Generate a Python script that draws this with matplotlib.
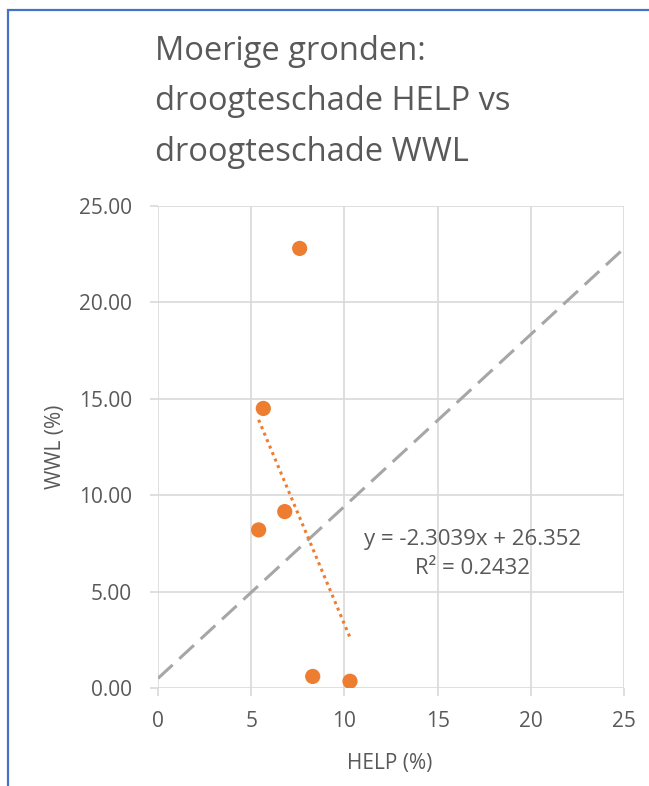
import matplotlib
matplotlib.use('Agg')

import numpy as np
import matplotlib.pyplot as plt
from matplotlib.patches import Rectangle

# data
help_pct = [7.6, 5.65, 6.8, 5.4, 8.3, 10.3]
wwl_pct = [22.8, 14.5, 9.15, 8.2, 0.6, 0.35]

# trendline as printed on the chart
slope = -2.3039
intercept = 26.352
r2 = 0.2432

# grey dashed reference line
ref_x = [0, 25]
ref_y = [0.5, 22.8]

x_ticks = [0, 5, 10, 15, 20, 25]
y_ticks = [0, 5, 10, 15, 20, 25]

plt.rcParams['font.family'] = ['Open Sans', 'DejaVu Sans']
grey_txt = '#595959'
orange = '#ED7D31'

fig = plt.figure(figsize=(6.49, 7.86), dpi=100)
ax = fig.add_axes([158 / 649, 1 - 688 / 786, (624 - 158) / 649, (688 - 206) / 786])

# frame around the chart (clipped by the image on the right and bottom)
fig.patches.append(Rectangle((8 / 649, -0.1), 1.2, 1 - 10 / 786 + 0.1,
                             transform=fig.transFigure, fill=False,
                             edgecolor='#4472C4', linewidth=1.6))

ax.plot(ref_x, ref_y, color='#A6A6A6', linestyle=(0, (6.5, 3)), linewidth=2.2, zorder=2)

tx = np.array([min(help_pct), max(help_pct)])
ax.plot(tx, slope * tx + intercept, color=orange, linestyle=(0, (1, 1.3)),
        linewidth=2.2, zorder=3)

ax.scatter(help_pct, wwl_pct, s=120, color=orange, edgecolors='none', zorder=4)

ax.text(16.85, 6.95, f"y = {slope}x + {intercept}\nR² = {r2}", ha='center', va='center',
        multialignment='center', fontsize=16, color=grey_txt, linespacing=1.45)

ax.set_xlim(0, 25)
ax.set_ylim(0, 25)
ax.set_xticks(x_ticks)
ax.set_yticks(y_ticks)
ax.set_yticklabels([f"{v:.2f}" for v in y_ticks])
ax.grid(True, color='#D9D9D9', linewidth=1.2)
ax.set_axisbelow(True)
for s in ax.spines.values():
    s.set_visible(False)
ax.tick_params(colors='#D9D9D9', labelcolor=grey_txt, labelsize=15, length=5.8, width=1.2)
ax.tick_params(axis='y', pad=13)
ax.tick_params(axis='x', pad=11)

ax.set_xlabel("HELP (%)", fontsize=15, color=grey_txt, va='center')
ax.set_ylabel("WWL (%)", fontsize=15, color=grey_txt, va='center')
ax.xaxis.set_label_coords(0.498, -(763 - 688) / 482)
ax.yaxis.set_label_coords((55 - 158) / 466, 0.5)

fig.text(155 / 649, 1 - 35 / 786, "Moerige gronden:\ndroogteschade HELP vs\ndroogteschade WWL",
         ha='left', va='top', fontsize=23.5, color=grey_txt, linespacing=1.7)

fig.savefig("out.png", dpi=100)
